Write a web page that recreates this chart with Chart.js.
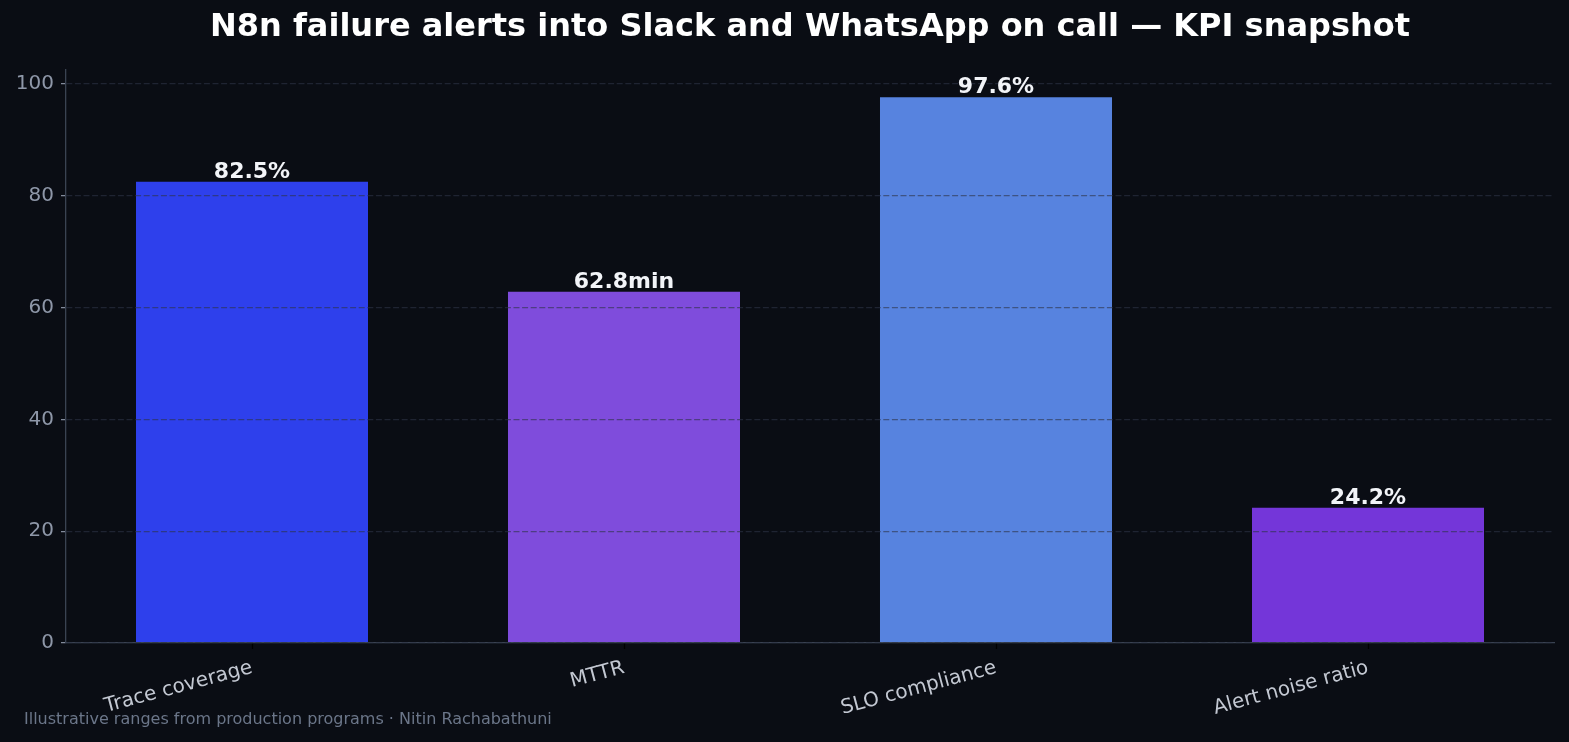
<!DOCTYPE html>
<html><head><meta charset="utf-8">
<script src="https://cdn.jsdelivr.net/npm/chart.js@4.4.1/dist/chart.umd.min.js"></script>
<style>html,body{margin:0;padding:0;background:#0a0d14;}canvas{display:block;}</style>
</head><body>
<canvas id="c" width="1569" height="742"></canvas>
<script>
const categories = ["Trace coverage", "MTTR", "SLO compliance", "Alert noise ratio"];
const values = [82.5, 62.8, 97.6, 24.2];
const units = ["%", "min", "%", "%"];
const barColors = ["#2e40ec", "#7f4cdc", "#5783df", "#7436d9"];
const yTicks = [0, 20, 40, 60, 80, 100];
const titleText = "N8n failure alerts into Slack and WhatsApp on call \u2014 KPI snapshot";
const footerText = "Illustrative ranges from production programs \u00b7 Nitin Rachabathuni";

const FONT = "'DejaVu Sans', 'Liberation Sans', sans-serif";

const overlays = {
  id: 'overlays',
  afterDraw(chart) {
    const ctx = chart.ctx;
    const a = chart.chartArea;
    const meta = chart.getDatasetMeta(0);
    ctx.save();
    ctx.font = "bold 22px " + FONT;
    ctx.fillStyle = "#f2f4f8";
    ctx.textAlign = "center";
    ctx.textBaseline = "alphabetic";
    meta.data.forEach((bar, i) => {
      ctx.fillText(values[i].toFixed(1) + units[i], bar.x, bar.y - 4);
    });
    ctx.font = "bold 32px " + FONT;
    ctx.fillStyle = "#ffffff";
    ctx.textBaseline = "middle";
    ctx.fillText(titleText, (a.left + a.right) / 2, 28);
    ctx.font = "16px " + FONT;
    ctx.fillStyle = "#6b7689";
    ctx.textAlign = "left";
    ctx.fillText(footerText, 24, 720);
    ctx.restore();
  }
};
const bg = {
  id: 'bg',
  beforeDraw(chart) {
    const ctx = chart.ctx;
    ctx.save();
    ctx.fillStyle = "#0a0d14";
    ctx.fillRect(0, 0, chart.width, chart.height);
    ctx.restore();
  }
};

new Chart(document.getElementById('c'), {
  type: 'bar',
  data: {
    labels: categories,
    datasets: [{
      data: values,
      backgroundColor: barColors,
      borderWidth: 0,
      barPercentage: 0.6237,
      categoryPercentage: 1.0
    }]
  },
  options: {
    responsive: false,
    animation: false,
    layout: { padding: { left: 0, right: 15, top: 70, bottom: 0 } },
    plugins: {
      legend: { display: false },
      tooltip: { enabled: false },
      title: { display: false }
    },
    scales: {
      x: {
        offset: true,
        grid: { z: 1, display: true, offset: false, drawOnChartArea: false, drawTicks: true, tickLength: 6, tickColor: "#000000", tickWidth: 1.3 },
        border: { z: 1, display: true, color: "#3a4352", width: 1.3 },
        ticks: {
          color: "#c3c8d2",
          font: { family: FONT, size: 20 },
          minRotation: 15, maxRotation: 15,
          padding: 7,
          autoSkip: false
        },
        afterFit(s) { s.height = 99; }
      },
      y: {
        min: 0,
        max: 102.48,
        afterBuildTicks(s) { s.ticks = yTicks.map(v => ({ value: v })); },
        grid: {
          z: 1,
          color: "rgba(45,52,70,0.6)",
          lineWidth: 1.3,
          tickLength: 5,
          tickColor: "#8a93a3",
          tickWidth: 1.2,
          drawTicks: true
        },
        border: { z: 1, display: true, color: "#3a4352", width: 1.3, dash: [6, 2.6] },
        ticks: {
          color: "#8e97a8",
          font: { family: FONT, size: 20 },
          padding: 7
        },
        afterFit(s) { s.width = 66; }
      }
    }
  },
  plugins: [bg, overlays]
});
</script>
</body></html>
